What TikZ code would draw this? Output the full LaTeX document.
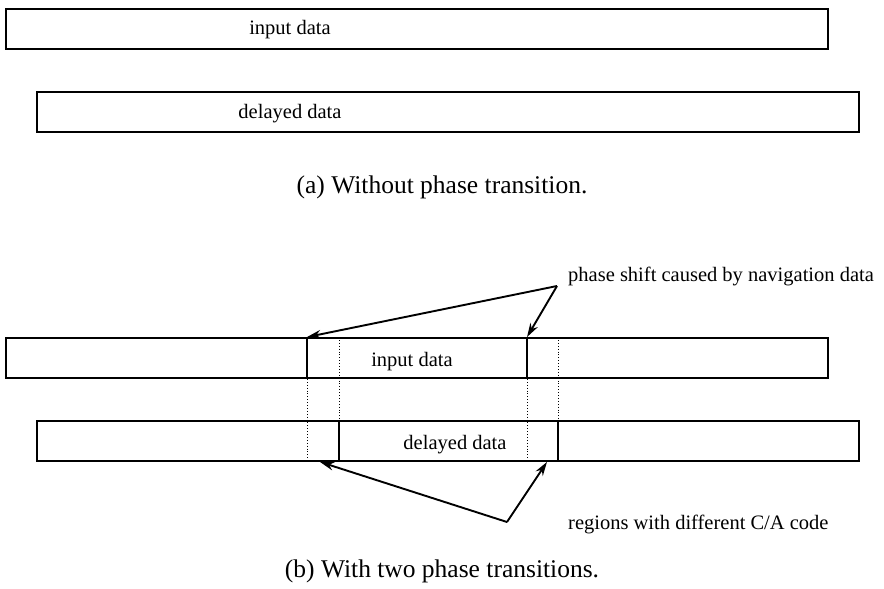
\documentclass[tikz,border=0pt]{standalone}
\usepackage{fontspec}
\setmainfont{Liberation Serif}
\usetikzlibrary{arrows.meta}
\begin{document}
\begin{tikzpicture}[x=1pt,y=-1pt,>={Stealth[length=14pt,width=8.5pt]},
	frame/.style={draw,line width=1.9pt,minimum width=822pt,minimum height=40pt,inner sep=0pt},
	lbl/.style={font=\fontsize{20.5}{24}\selectfont,inner sep=0pt},
	capt/.style={font=\fontsize{25.5}{30}\selectfont,inner sep=0pt},
	cut/.style={line width=1.7pt},
	dots/.style={dotted,line width=0.9pt},
	pointer/.style={->,line width=1.9pt}]
	\useasboundingbox (0,0) rectangle (884,589);
	% (a) without phase transition
	\node[frame] (inA) at (417,29) {};
	\node[frame] (delA) at (448,112) {};
	\node[lbl] (tinA) at (290,30) {input data};
	\node[lbl] (tdelA) at (290,114) {delayed data};
	\node[capt] (capA) at (442,187) {(a) Without phase transition.};
	% (b) with two phase transitions
	\node[frame] (inB) at (417,358) {};
	\node[frame] (delB) at (448,441) {};
	\node[lbl] (tinB) at (412,362) {input data};
	\node[lbl] (tdelB) at (455,445) {delayed data};
	\coordinate (p1) at (307,358);
	\coordinate (p2) at (527,358);
	\coordinate (q1) at (339,441);
	\coordinate (q2) at (558,441);
	\draw[cut] (inB.north -| p1)--(inB.south -| p1);
	\draw[cut] (inB.north -| p2)--(inB.south -| p2);
	\draw[cut] (delB.north -| q1)--(delB.south -| q1);
	\draw[cut] (delB.north -| q2)--(delB.south -| q2);
	\draw[dots] (inB.south -| p1)--(delB.south -| p1);
	\draw[dots] (inB.south -| p2)--(delB.south -| p2);
	\draw[dots] (inB.north -| q1)--(delB.north -| q1);
	\draw[dots] (inB.north -| q2)--(delB.north -| q2);
	% labels and pointers
	\node[lbl,anchor=west] (shift) at (568,276) {phase shift caused by navigation data};
	\coordinate (ts) at (557,286);
	\draw[pointer] (ts)--(inB.north -| p1);
	\draw[pointer] (ts)--(inB.north -| p2);
	\node[lbl,anchor=west] (regions) at (568,524) {regions with different C/A code};
	\coordinate (tr) at (507,522);
	\draw[pointer] (tr)--(delB.south -| 320,0);
	\draw[pointer] (tr)--(delB.south -| 547,0);
	\node[capt] (capB) at (442,571) {(b) With two phase transitions.};
\end{tikzpicture}
\end{document}
